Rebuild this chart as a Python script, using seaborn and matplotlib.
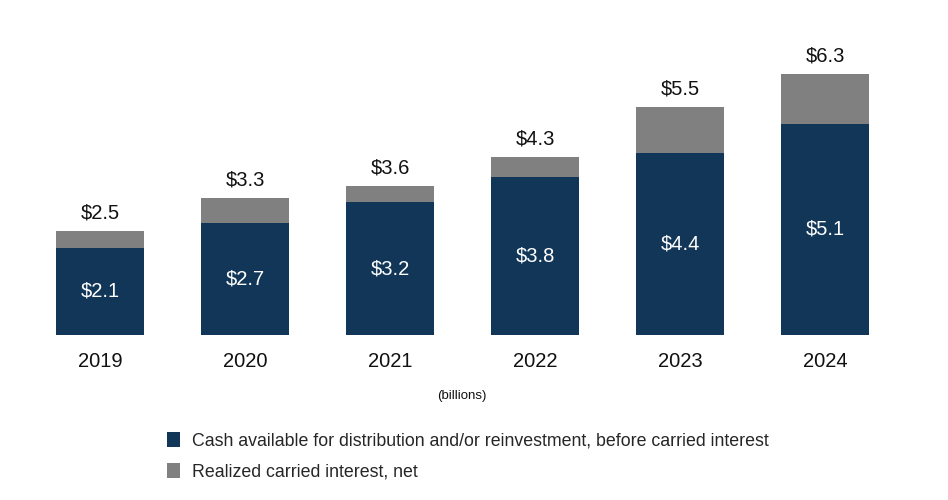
import matplotlib
matplotlib.use("Agg")
import matplotlib.pyplot as plt
import seaborn as sns
import pandas as pd
from matplotlib.patches import Patch

# data (billions)
years = ["2019", "2020", "2021", "2022", "2023", "2024"]
cash_before_carry = [2.1, 2.7, 3.2, 3.8, 4.4, 5.1]
totals = [2.5, 3.3, 3.6, 4.3, 5.5, 6.3]
legend_labels = ["Cash available for distribution and/or reinvestment, before carried interest",
                 "Realized carried interest, net"]

navy = "#123658"
grey = "#808080"

df = pd.DataFrame({"year": years, "base": cash_before_carry, "total": totals})

sns.set_theme(style="white")
plt.rcParams["font.family"] = ["Liberation Sans", "DejaVu Sans"]

fig = plt.figure(figsize=(9.48, 5), dpi=100)
ax = fig.add_axes([0.029, 0.33, 0.918, 0.564])

# grey total bar behind, navy base on top -> stacked look
sns.barplot(data=df, x="year", y="total", color=grey, width=0.607, saturation=1,
            linewidth=0, ax=ax)
sns.barplot(data=df, x="year", y="base", color=navy, width=0.607, saturation=1,
            linewidth=0, ax=ax)

for i, (b, t) in enumerate(zip(cash_before_carry, totals)):
    ax.annotate(f"${t:.1f}", (i, t), xytext=(0, 6), textcoords="offset points",
                ha="center", va="bottom", fontsize=14.5, color="#111111")
    ax.text(i, b / 2, f"${b:.1f}", ha="center", va="center", fontsize=14.5, color="white")

ax.set_ylim(0, 6.8)
ax.set_xlim(-0.5, 5.5)
ax.set_xlabel("")
ax.set_ylabel("")
ax.set_yticks([])
ax.tick_params(axis="x", length=0, pad=12, labelsize=14.5, labelcolor="#111111")
sns.despine(ax=ax, left=True, bottom=True)

fig.text(0.487, 0.207, "(billions)", ha="center", va="center", fontsize=9.5, color="#111111")

handles = [Patch(facecolor=navy, linewidth=0), Patch(facecolor=grey, linewidth=0)]
fig.legend(handles, legend_labels, loc="upper left", bbox_to_anchor=(0.176, 0.136),
           frameon=False, fontsize=12.8, handlelength=0.75, handleheight=0.9,
           handletextpad=0.65, labelspacing=0.75, borderaxespad=0, borderpad=0)

fig.savefig("out.png", dpi=100, facecolor="white")
